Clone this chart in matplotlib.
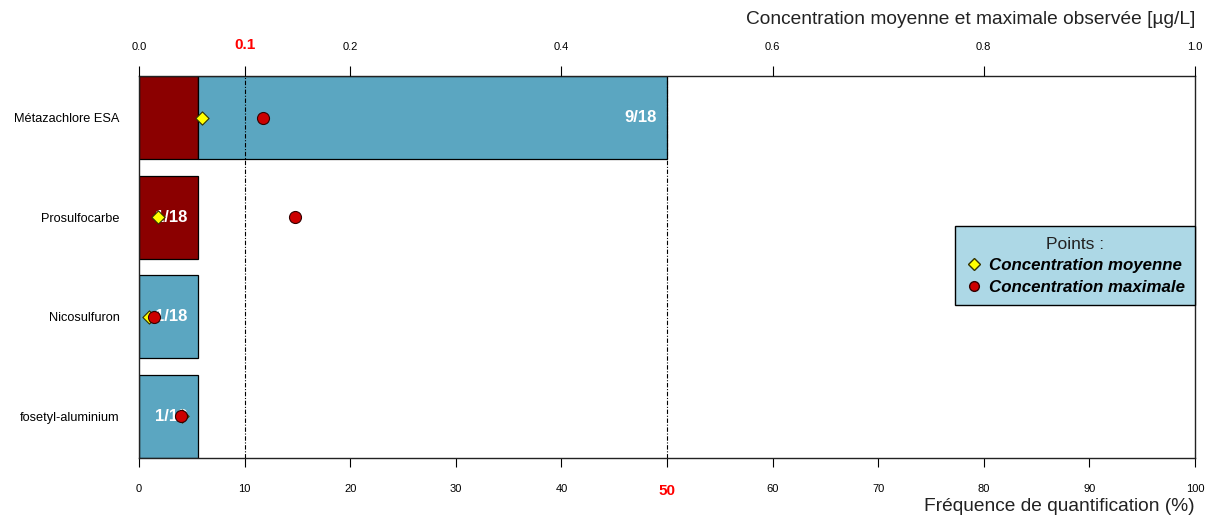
import matplotlib
matplotlib.use("Agg")
import matplotlib.pyplot as plt
from matplotlib.lines import Line2D

plt.rcParams['font.family'] = ['Liberation Sans', 'DejaVu Sans']

# Substances, listed top to bottom
substances = ["Métazachlore ESA", "Prosulfocarbe", "Nicosulfuron", "fosetyl-aluminium"]
n_samples = 18
# Quantifications above / below the 0.1 µg/L threshold
n_above = [1, 1, 0, 0]
n_below = [8, 0, 1, 1]
# Mean and maximum observed concentrations (µg/L)
conc_mean = [0.060, 0.018, 0.009, 0.041]
conc_max = [0.117, 0.148, 0.0145, 0.0395]

freq_ticks = [0, 10, 20, 30, 40, 50, 60, 70, 80, 90, 100]
conc_ticks = [0.0, 0.1, 0.2, 0.4, 0.6, 0.8, 1.0]
freq_threshold = 50
conc_threshold = 0.1

col_above = "#8B0000"
col_below = "#5BA6C1"
col_legend = "#ADD8E6"

fig = plt.figure(figsize=(12.05, 5.17), dpi=100)
ax = fig.add_axes([139 / 1205, 59 / 517, 1056 / 1205, 382 / 517])

n = len(substances)
ypos = [0.7 + 1.2 * (n - 1 - i) for i in range(n)]

for i, name in enumerate(substances):
    f_above = n_above[i] / n_samples * 100
    f_below = n_below[i] / n_samples * 100
    if n_above[i]:
        ax.barh(ypos[i], f_above, height=1.0, left=0, color=col_above,
                edgecolor="black", linewidth=0.9, zorder=2)
    if n_below[i]:
        ax.barh(ypos[i], f_below, height=1.0, left=f_above, color=col_below,
                edgecolor="black", linewidth=0.9, zorder=2)
    total = n_above[i] + n_below[i]
    ax.text(f_above + f_below - 1.0, ypos[i], f"{total}/{n_samples}",
            ha="right", va="center", color="white", fontweight="bold",
            fontsize=12, zorder=4)

for xv in (conc_threshold * 100, freq_threshold):
    ax.axvline(xv, color="black", linestyle=(0, (4, 1.5, 1, 1.5)),
               linewidth=0.8, zorder=3)

ax.set_xlim(0, 100)
ax.set_ylim(0.2, 0.2 + 1.2 * n - 0.2)
ax.set_yticks(ypos)
ax.set_yticklabels(substances, fontsize=9.2)
ax.tick_params(axis="y", length=0, pad=14)
ax.set_xticks(freq_ticks)
ax.set_xticklabels([str(t) for t in freq_ticks], fontsize=8)
ax.tick_params(axis="x", direction="out", length=6.5, width=0.8, pad=12)
for lbl, t in zip(ax.get_xticklabels(), freq_ticks):
    if t == freq_threshold:
        lbl.set_color("red")
        lbl.set_fontweight("bold")
        lbl.set_fontsize(11)
for tk, t in zip(ax.xaxis.get_major_ticks(), freq_ticks):
    if t == freq_threshold:
        tk.tick1line.set_color("red")
for sp in ax.spines.values():
    sp.set_linewidth(1.0)
    sp.set_color("#222222")

ax.text(1.0, -0.128, "Fréquence de quantification (%)", transform=ax.transAxes,
        ha="right", va="center", fontsize=13.8, color="#222222")

# Concentration scale on top
ax2 = ax.twiny()
ax2.set_xlim(0, 1.0)
ax2.set_xticks(conc_ticks)
ax2.set_xticklabels([f"{t:.1f}" for t in conc_ticks], fontsize=8)
ax2.tick_params(axis="x", direction="out", length=7.5, width=0.8, pad=10)
for lbl, t in zip(ax2.get_xticklabels(), conc_ticks):
    if t == conc_threshold:
        lbl.set_color("red")
        lbl.set_fontweight("bold")
        lbl.set_fontsize(11)
for tk, t in zip(ax2.xaxis.get_major_ticks(), conc_ticks):
    if t == conc_threshold:
        tk.tick2line.set_color("red")
for sp in ax2.spines.values():
    sp.set_visible(False)

ax2.scatter(conc_mean, ypos, marker="D", s=45, facecolor="#FFFF00",
            edgecolor="#333300", linewidth=0.8, zorder=5)
ax2.scatter(conc_max, ypos, marker="o", s=75, facecolor="#CC0000",
            edgecolor="#330000", linewidth=0.8, zorder=6)

ax2.text(1.0, 1.147, "Concentration moyenne et maximale observée [µg/L]",
         transform=ax.transAxes, ha="right", va="center", fontsize=13.8,
         color="#222222")

handles = [
    Line2D([], [], marker="D", linestyle="none", markersize=6,
           markerfacecolor="#FFFF00", markeredgecolor="#333300"),
    Line2D([], [], marker="o", linestyle="none", markersize=7,
           markerfacecolor="#CC0000", markeredgecolor="#330000"),
]
leg = ax2.legend(handles, ["Concentration moyenne", "Concentration maximale"],
                 title="Points :", loc="center right",
                 bbox_to_anchor=(1.0, 0.503), bbox_transform=ax.transAxes,
                 borderaxespad=0, frameon=True, fancybox=False,
                 facecolor=col_legend, edgecolor="black", framealpha=1,
                 prop={"size": 12.2, "weight": "bold", "style": "italic"},
                 title_fontsize=12.5, handletextpad=0.4, handlelength=1.0,
                 labelspacing=0.4, borderpad=0.6)
leg.get_frame().set_linewidth(1.0)
leg.get_title().set_color("#222222")

fig.savefig("out.png", dpi=100)
